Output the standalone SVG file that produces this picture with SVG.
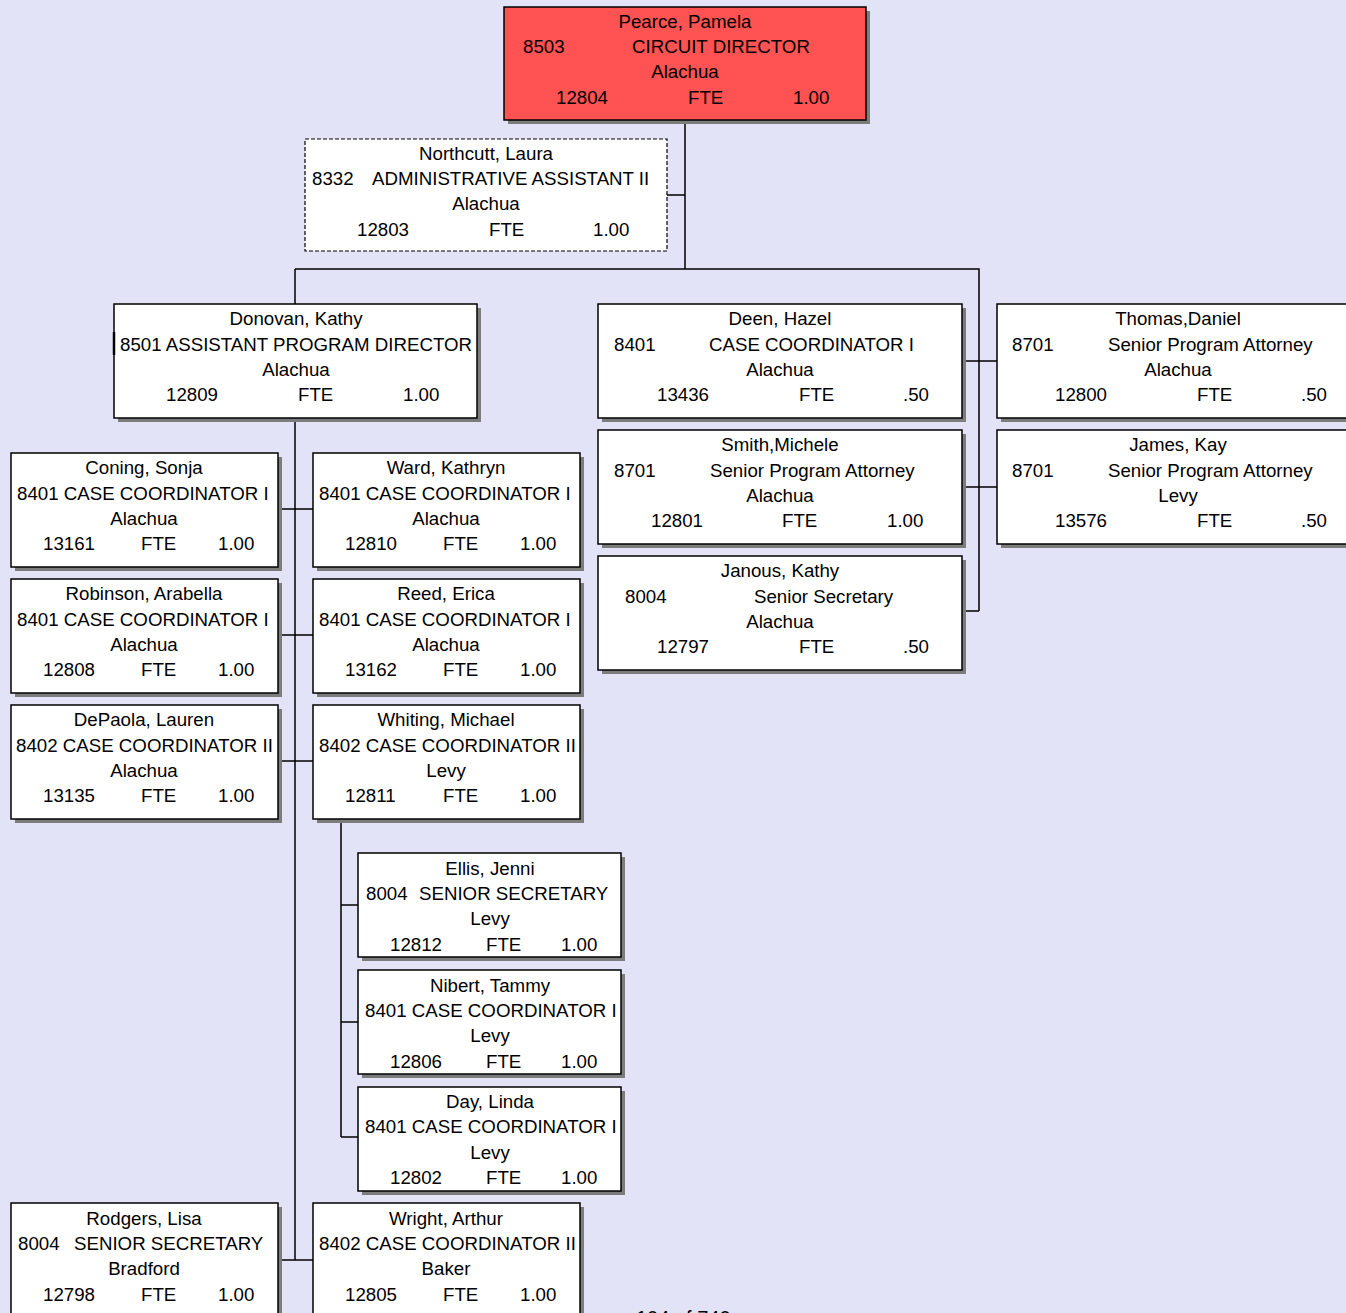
<svg xmlns="http://www.w3.org/2000/svg" width="1346" height="1313" viewBox="0 0 1346 1313">
<style>
.bg{fill:#e3e3f7}
.sh{fill:#7c7c7c}
.bx{fill:#fff;stroke:#000;stroke-width:1.5}
.red{fill:#ff5252}
.dash{fill:#fff;stroke:#000;stroke-width:1.2;stroke-dasharray:4 2}
text{font-family:"Liberation Sans",Arial,sans-serif;font-size:18.7px;fill:#000;transform:translate(0,1px)}
.c{text-anchor:middle}
.ln{fill:none;stroke:#000;stroke-width:1.5}
</style>
<rect class="bg" x="0" y="0" width="1346" height="1313"/>

<!-- reporting lines -->
<g id="connectors">
  <path class="ln" d="M685 120V269M667 195H685M295 269H979V611M295 269V304"/>
  <path class="ln" d="M962 361H997M962 487H997M962 611H979"/>
  <path class="ln" d="M295 418V1260M278 509H313M278 635H313M278 761H313M278 1260H313"/>
  <path class="ln" d="M341 819V1137M341 905H358M341 1022H358M341 1137H358"/>
</g>

<g id="pearce">
  <rect class="sh" x="508" y="11" width="362" height="113"/>
  <rect class="bx red" x="504" y="7" width="362" height="113"/>
  <text class="c" x="685" y="27">Pearce, Pamela</text>
  <text x="523" y="52">8503</text><text x="632" y="52">CIRCUIT DIRECTOR</text>
  <text class="c" x="685" y="77">Alachua</text>
  <text x="556" y="103">12804</text><text x="688" y="103">FTE</text><text x="793" y="103">1.00</text>
</g>

<g id="northcutt">
  <rect class="dash" x="305" y="139" width="362" height="112"/>
  <text class="c" x="486" y="159">Northcutt, Laura</text>
  <text x="312" y="184">8332</text><text x="372" y="184">ADMINISTRATIVE ASSISTANT II</text>
  <text class="c" x="486" y="209">Alachua</text>
  <text x="357" y="235">12803</text><text x="489" y="235">FTE</text><text x="593" y="235">1.00</text>
</g>

<g id="donovan">
  <rect class="sh" x="118" y="308" width="363" height="114"/>
  <rect class="bx" x="114" y="304" width="363" height="114"/>
  <path d="M114 332V355" stroke="#000" stroke-width="2.5"/>
  <text class="c" x="296" y="324">Donovan, Kathy</text>
  <text x="120" y="350">8501 ASSISTANT PROGRAM DIRECTOR</text>
  <text class="c" x="296" y="375">Alachua</text>
  <text x="166" y="400">12809</text><text x="298" y="400">FTE</text><text x="403" y="400">1.00</text>
</g>

<g id="deen">
  <rect class="sh" x="602" y="308" width="364" height="114"/>
  <rect class="bx" x="598" y="304" width="364" height="114"/>
  <text class="c" x="780" y="324">Deen, Hazel</text>
  <text x="614" y="350">8401</text><text x="709" y="350">CASE COORDINATOR I</text>
  <text class="c" x="780" y="375">Alachua</text>
  <text x="657" y="400">13436</text><text x="799" y="400">FTE</text><text x="903" y="400">.50</text>
</g>

<g id="smith">
  <rect class="sh" x="602" y="434" width="364" height="114"/>
  <rect class="bx" x="598" y="430" width="364" height="114"/>
  <text class="c" x="780" y="450">Smith,Michele</text>
  <text x="614" y="476">8701</text><text x="710" y="476">Senior Program Attorney</text>
  <text class="c" x="780" y="501">Alachua</text>
  <text x="651" y="526">12801</text><text x="782" y="526">FTE</text><text x="887" y="526">1.00</text>
</g>

<g id="janous">
  <rect class="sh" x="602" y="560" width="364" height="114"/>
  <rect class="bx" x="598" y="556" width="364" height="114"/>
  <text class="c" x="780" y="576">Janous, Kathy</text>
  <text x="625" y="602">8004</text><text x="754" y="602">Senior Secretary</text>
  <text class="c" x="780" y="627">Alachua</text>
  <text x="657" y="652">12797</text><text x="799" y="652">FTE</text><text x="903" y="652">.50</text>
</g>

<g id="thomas">
  <rect class="sh" x="1001" y="308" width="364" height="114"/>
  <rect class="bx" x="997" y="304" width="364" height="114"/>
  <text class="c" x="1178" y="324">Thomas,Daniel</text>
  <text x="1012" y="350">8701</text><text x="1108" y="350">Senior Program Attorney</text>
  <text class="c" x="1178" y="375">Alachua</text>
  <text x="1055" y="400">12800</text><text x="1197" y="400">FTE</text><text x="1301" y="400">.50</text>
</g>

<g id="james">
  <rect class="sh" x="1001" y="434" width="364" height="114"/>
  <rect class="bx" x="997" y="430" width="364" height="114"/>
  <text class="c" x="1178" y="450">James, Kay</text>
  <text x="1012" y="476">8701</text><text x="1108" y="476">Senior Program Attorney</text>
  <text class="c" x="1178" y="501">Levy</text>
  <text x="1055" y="526">13576</text><text x="1197" y="526">FTE</text><text x="1301" y="526">.50</text>
</g>

<g id="coning">
  <rect class="sh" x="15" y="457" width="267" height="114"/>
  <rect class="bx" x="11" y="453" width="267" height="114"/>
  <text class="c" x="144" y="473">Coning, Sonja</text>
  <text x="17" y="499">8401 CASE COORDINATOR I</text>
  <text class="c" x="144" y="524">Alachua</text>
  <text x="43" y="549">13161</text><text x="141" y="549">FTE</text><text x="218" y="549">1.00</text>
</g>

<g id="ward">
  <rect class="sh" x="317" y="457" width="267" height="114"/>
  <rect class="bx" x="313" y="453" width="267" height="114"/>
  <text class="c" x="446" y="473">Ward, Kathryn</text>
  <text x="319" y="499">8401 CASE COORDINATOR I</text>
  <text class="c" x="446" y="524">Alachua</text>
  <text x="345" y="549">12810</text><text x="443" y="549">FTE</text><text x="520" y="549">1.00</text>
</g>

<g id="robinson">
  <rect class="sh" x="15" y="583" width="267" height="114"/>
  <rect class="bx" x="11" y="579" width="267" height="114"/>
  <text class="c" x="144" y="599">Robinson, Arabella</text>
  <text x="17" y="625">8401 CASE COORDINATOR I</text>
  <text class="c" x="144" y="650">Alachua</text>
  <text x="43" y="675">12808</text><text x="141" y="675">FTE</text><text x="218" y="675">1.00</text>
</g>

<g id="reed">
  <rect class="sh" x="317" y="583" width="267" height="114"/>
  <rect class="bx" x="313" y="579" width="267" height="114"/>
  <text class="c" x="446" y="599">Reed, Erica</text>
  <text x="319" y="625">8401 CASE COORDINATOR I</text>
  <text class="c" x="446" y="650">Alachua</text>
  <text x="345" y="675">13162</text><text x="443" y="675">FTE</text><text x="520" y="675">1.00</text>
</g>

<g id="depaola">
  <rect class="sh" x="15" y="709" width="267" height="114"/>
  <rect class="bx" x="11" y="705" width="267" height="114"/>
  <text class="c" x="144" y="725">DePaola, Lauren</text>
  <text x="16" y="751">8402 CASE COORDINATOR II</text>
  <text class="c" x="144" y="776">Alachua</text>
  <text x="43" y="801">13135</text><text x="141" y="801">FTE</text><text x="218" y="801">1.00</text>
</g>

<g id="whiting">
  <rect class="sh" x="317" y="709" width="267" height="114"/>
  <rect class="bx" x="313" y="705" width="267" height="114"/>
  <text class="c" x="446" y="725">Whiting, Michael</text>
  <text x="319" y="751">8402 CASE COORDINATOR II</text>
  <text class="c" x="446" y="776">Levy</text>
  <text x="345" y="801">12811</text><text x="443" y="801">FTE</text><text x="520" y="801">1.00</text>
</g>

<g id="ellis">
  <rect class="sh" x="362" y="857" width="263" height="104"/>
  <rect class="bx" x="358" y="853" width="263" height="104"/>
  <text class="c" x="490" y="874">Ellis, Jenni</text>
  <text x="366" y="899">8004</text><text x="419" y="899">SENIOR SECRETARY</text>
  <text class="c" x="490" y="924">Levy</text>
  <text x="390" y="950">12812</text><text x="486" y="950">FTE</text><text x="561" y="950">1.00</text>
</g>

<g id="nibert">
  <rect class="sh" x="362" y="974" width="263" height="104"/>
  <rect class="bx" x="358" y="970" width="263" height="104"/>
  <text class="c" x="490" y="991">Nibert, Tammy</text>
  <text x="365" y="1016">8401 CASE COORDINATOR I</text>
  <text class="c" x="490" y="1041">Levy</text>
  <text x="390" y="1067">12806</text><text x="486" y="1067">FTE</text><text x="561" y="1067">1.00</text>
</g>

<g id="day">
  <rect class="sh" x="362" y="1091" width="263" height="104"/>
  <rect class="bx" x="358" y="1087" width="263" height="104"/>
  <text class="c" x="490" y="1107">Day, Linda</text>
  <text x="365" y="1132">8401 CASE COORDINATOR I</text>
  <text class="c" x="490" y="1158">Levy</text>
  <text x="390" y="1183">12802</text><text x="486" y="1183">FTE</text><text x="561" y="1183">1.00</text>
</g>

<g id="rodgers">
  <rect class="sh" x="15" y="1207" width="267" height="114"/>
  <rect class="bx" x="11" y="1203" width="267" height="114"/>
  <text class="c" x="144" y="1224">Rodgers, Lisa</text>
  <text x="18" y="1249">8004</text><text x="74" y="1249">SENIOR SECRETARY</text>
  <text class="c" x="144" y="1274">Bradford</text>
  <text x="43" y="1300">12798</text><text x="141" y="1300">FTE</text><text x="218" y="1300">1.00</text>
</g>

<g id="wright">
  <rect class="sh" x="317" y="1207" width="267" height="114"/>
  <rect class="bx" x="313" y="1203" width="267" height="114"/>
  <text class="c" x="446" y="1224">Wright, Arthur</text>
  <text x="319" y="1249">8402 CASE COORDINATOR II</text>
  <text class="c" x="446" y="1274">Baker</text>
  <text x="345" y="1300">12805</text><text x="443" y="1300">FTE</text><text x="520" y="1300">1.00</text>
</g>

<!-- page footer, mostly below the bottom edge -->
<text x="636" y="1324" style="font-size:20px">104 of 740</text>
</svg>
